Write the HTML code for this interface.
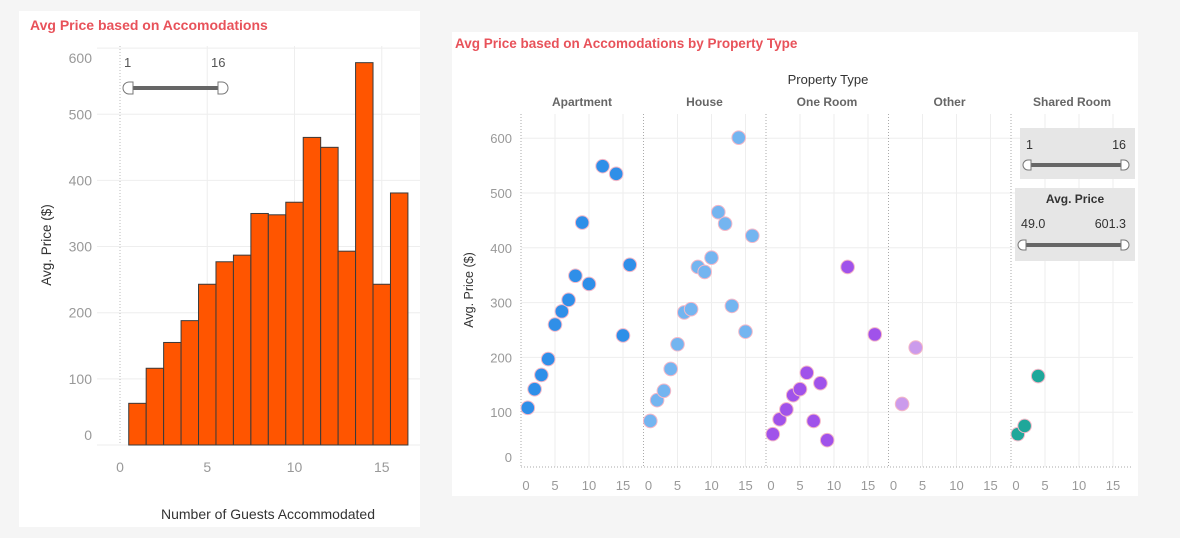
<!DOCTYPE html>
<html><head><meta charset="utf-8">
<style>
html,body{margin:0;padding:0;background:#f5f5f5;}
svg{display:block;font-family:"Liberation Sans",sans-serif;}
</style></head>
<body>
<svg id="root" width="1180" height="538" xmlns="http://www.w3.org/2000/svg">
  <rect x="0" y="0" width="1180" height="538" fill="#f5f5f5"/>
  <rect x="19" y="11" width="401" height="516" fill="#ffffff"/>
  <rect x="452" y="32" width="686" height="464" fill="#ffffff"/>
  <text x="30" y="30" font-size="14" font-weight="bold" fill="#e8525a">Avg Price based on Accomodations</text>
  <text x="455" y="48" font-size="13.5" font-weight="bold" fill="#e8525a">Avg Price based on Accomodations by Property Type</text>
  <g id="bar-chart"></g>
  <g id="scatter-chart"></g>
</svg>
<script>
// ---- Bar chart data ----
const barGuests = [1,2,3,4,5,6,7,8,9,10,11,12,13,14,15,16];
const barPrices = [63,116,155,188,243,277,287,350,348,367,465,450,293,578,243,381];
const barYTicks = [0,100,200,300,400,500,600];
const barXTicks = [0,5,10,15];

// ---- Scatter data ----
const propertyTypes = ["Apartment","House","One Room","Other","Shared Room"];
const aptGuests = [1,2,3,4,5,6,7,8,9,10,12,14,15,16];
const aptPrices = [108,142,168,197,260,284,305,349,446,334,549,535,240,369];
const houseGuests = [1,2,3,4,5,6,7,8,9,10,11,12,13,14,15,16];
const housePrices = [84,122,139,179,224,282,288,365,356,382,465,444,294,601,247,422];
const roomGuests = [1,2,3,4,5,6,7,8,9,12,16];
const roomPrices = [60,87,105,131,142,172,84,153,49,365,242];
const otherGuests = [2,4];
const otherPrices = [115,218];
const sharedGuests = [1,2,4];
const sharedPrices = [60,75,166];
const scatterYTicks = [0,100,200,300,400,500,600];
const scatterXTicks = [0,5,10,15];
const seriesColors = ["#2f8fe8","#74b5f0","#a052ea","#cb9bec","#1fa79a"];

const NS = "http://www.w3.org/2000/svg";
function mk(tag, attrs, parent){
  const e = document.createElementNS(NS, tag);
  for (const k in attrs) e.setAttribute(k, attrs[k]);
  parent.appendChild(e);
  return e;
}

// ---------- Bar chart ----------
(function(){
  const g = document.getElementById('bar-chart');
  const x = v => 120 + v*17.45;
  const y = v => 445 - v*0.6615;
  // grid
  barYTicks.forEach(t=>{
    const l = mk('line',{x1:97,x2:420,y1:y(t),y2:y(t),stroke:'#eeeeee','stroke-width':1},g);
    
    
    let ty = y(t)+5;
    if (t===600) ty = y(t)+15;
    if (t===0) ty = y(t)-5;
    const tx = mk('text',{x:92,y:ty,'font-size':14,fill:'#999','text-anchor':'end'},g);
    tx.textContent = t;
    
    
  });
  barXTicks.forEach(t=>{
    if (t>0){
      const l = mk('line',{x1:x(t),x2:x(t),y1:46,y2:445,stroke:'#eeeeee','stroke-width':1},g);
      
      
    }
    const tx = mk('text',{x:x(t),y:472,'font-size':14,fill:'#999','text-anchor':'middle'},g);
    tx.textContent = t;
    
    
  });
  const zl = mk('line',{x1:x(0),x2:x(0),y1:46,y2:445,stroke:'#bbb','stroke-width':1,'stroke-dasharray':'1,2'},g);
  
  
  barGuests.forEach((gv,i)=>{
    const w = 17.45;
    const r = mk('rect',{x:x(gv)-w/2,y:y(barPrices[i]),width:w,height:y(0)-y(barPrices[i]),fill:'#ff5500',stroke:'#3a3a3a','stroke-width':1},g);
    
    
  });
  const yt = mk('text',{x:0,y:0,'font-size':13.5,fill:'#333','text-anchor':'middle',transform:'translate(51,245) rotate(-90)'},g);
  yt.textContent = 'Avg. Price ($)';
  
  
  const xt = mk('text',{x:268,y:519,'font-size':14,fill:'#333','text-anchor':'middle'},g);
  xt.textContent = 'Number of Guests Accommodated';
  
  
  // slider
  const s = mk('g',{},g);
  
  
  const a = mk('text',{x:124,y:67,'font-size':13,fill:'#555'},s); a.textContent='1';
   
  const b = mk('text',{x:211,y:67,'font-size':13,fill:'#555'},s); b.textContent='16';
   
  mk('rect',{x:132,y:86,width:90,height:4,fill:'#666'},s);
  mk('path',{d:'M133,82 h-4 a6,6 0 0 0 0,12 h4 z',fill:'#fff',stroke:'#777','stroke-width':1},s);
  mk('path',{d:'M218,82 h4 a6,6 0 0 1 0,12 h-4 z',fill:'#fff',stroke:'#777','stroke-width':1},s);
})();

// ---------- Scatter chart ----------
(function(){
  const g = document.getElementById('scatter-chart');
  const panelLeft = [521,643.5,766,888.5,1011];
  const unit = 6.8;
  const y = v => 467 - v*0.548;
  const seriesG = [aptGuests,houseGuests,roomGuests,otherGuests,sharedGuests];
  const seriesP = [aptPrices,housePrices,roomPrices,otherPrices,sharedPrices];

  scatterYTicks.forEach(t=>{
    if (t>0){
      const l = mk('line',{x1:521,x2:1133,y1:y(t),y2:y(t),stroke:'#eeeeee','stroke-width':1},g);
      
      
    }
    const tx = mk('text',{x:512,y:t===0?y(t)-5:y(t)+5,'font-size':13,fill:'#999','text-anchor':'end'},g);
    tx.textContent = t;
    
    
  });
  const pt = mk('text',{x:828,y:84,'font-size':13,fill:'#333','text-anchor':'middle'},g);
  pt.textContent = 'Property Type';
  
  
  propertyTypes.forEach((p,i)=>{
    const px = panelLeft[i];
    const h = mk('text',{x:px+61,y:106,'font-size':12,'font-weight':'bold',fill:'#666','text-anchor':'middle'},g);
    h.textContent = p;
    
    
    scatterXTicks.forEach(t=>{
      if (t>0){
        const l = mk('line',{x1:px+t*unit,x2:px+t*unit,y1:114,y2:467,stroke:'#eeeeee','stroke-width':1},g);
        
        
      }
      const tx = mk('text',{x:px+t*unit+(t===0?5:0),y:490,'font-size':13,fill:'#999','text-anchor':'middle'},g);
      tx.textContent = t;
      
      
    });
    const sep = mk('line',{x1:px,x2:px,y1:114,y2:467,stroke:'#aaa','stroke-width':1,'stroke-dasharray':'1,2'},g);
    
    
  });
  const base = mk('line',{x1:521,x2:1133,y1:467,y2:467,stroke:'#aaa','stroke-width':1,'stroke-dasharray':'1,2'},g);
  
  

  seriesG.forEach((arr,si)=>{
    arr.forEach((gv,i)=>{
      const c = mk('circle',{cx:panelLeft[si]+gv*unit,cy:y(seriesP[si][i]),r:6.8,fill:seriesColors[si],stroke:'#f4b8c8','stroke-width':1},g);
      
      
    });
  });

  const yt = mk('text',{x:0,y:0,'font-size':12.5,fill:'#333','text-anchor':'middle',transform:'translate(473,290) rotate(-90)'},g);
  yt.textContent = 'Avg. Price ($)';
  
  

  // filter 1
  const f1 = mk('g',{},g);
  
  
  mk('rect',{x:1020,y:128,width:115,height:51,fill:'#e6e6e6'},f1);
  const a = mk('text',{x:1026,y:149,'font-size':12.5,fill:'#333'},f1); a.textContent='1';
   
  const b = mk('text',{x:1126,y:149,'font-size':12.5,fill:'#333','text-anchor':'end'},f1); b.textContent='16';
   
  mk('rect',{x:1030,y:163,width:92,height:4,fill:'#666'},f1);
  mk('path',{d:'M1031,160 h-3 a5,5 0 0 0 0,10 h3 z',fill:'#fff',stroke:'#777'},f1);
  mk('path',{d:'M1121,160 h3 a5,5 0 0 1 0,10 h-3 z',fill:'#fff',stroke:'#777'},f1);
  // filter 2
  const f2 = mk('g',{},g);
  
  
  mk('rect',{x:1015,y:188,width:120,height:73,fill:'#e6e6e6'},f2);
  const t2 = mk('text',{x:1075,y:203,'font-size':12,'font-weight':'bold',fill:'#333','text-anchor':'middle'},f2); t2.textContent='Avg. Price';
   
  const c = mk('text',{x:1021,y:228,'font-size':12.5,fill:'#333'},f2); c.textContent='49.0';
   
  const d = mk('text',{x:1126,y:228,'font-size':12.5,fill:'#333','text-anchor':'end'},f2); d.textContent='601.3';
   
  mk('rect',{x:1025,y:243,width:97,height:4,fill:'#666'},f2);
  mk('path',{d:'M1026,240 h-3 a5,5 0 0 0 0,10 h3 z',fill:'#fff',stroke:'#777'},f2);
  mk('path',{d:'M1121,240 h3 a5,5 0 0 1 0,10 h-3 z',fill:'#fff',stroke:'#777'},f2);
})();
</script>
</body></html>
